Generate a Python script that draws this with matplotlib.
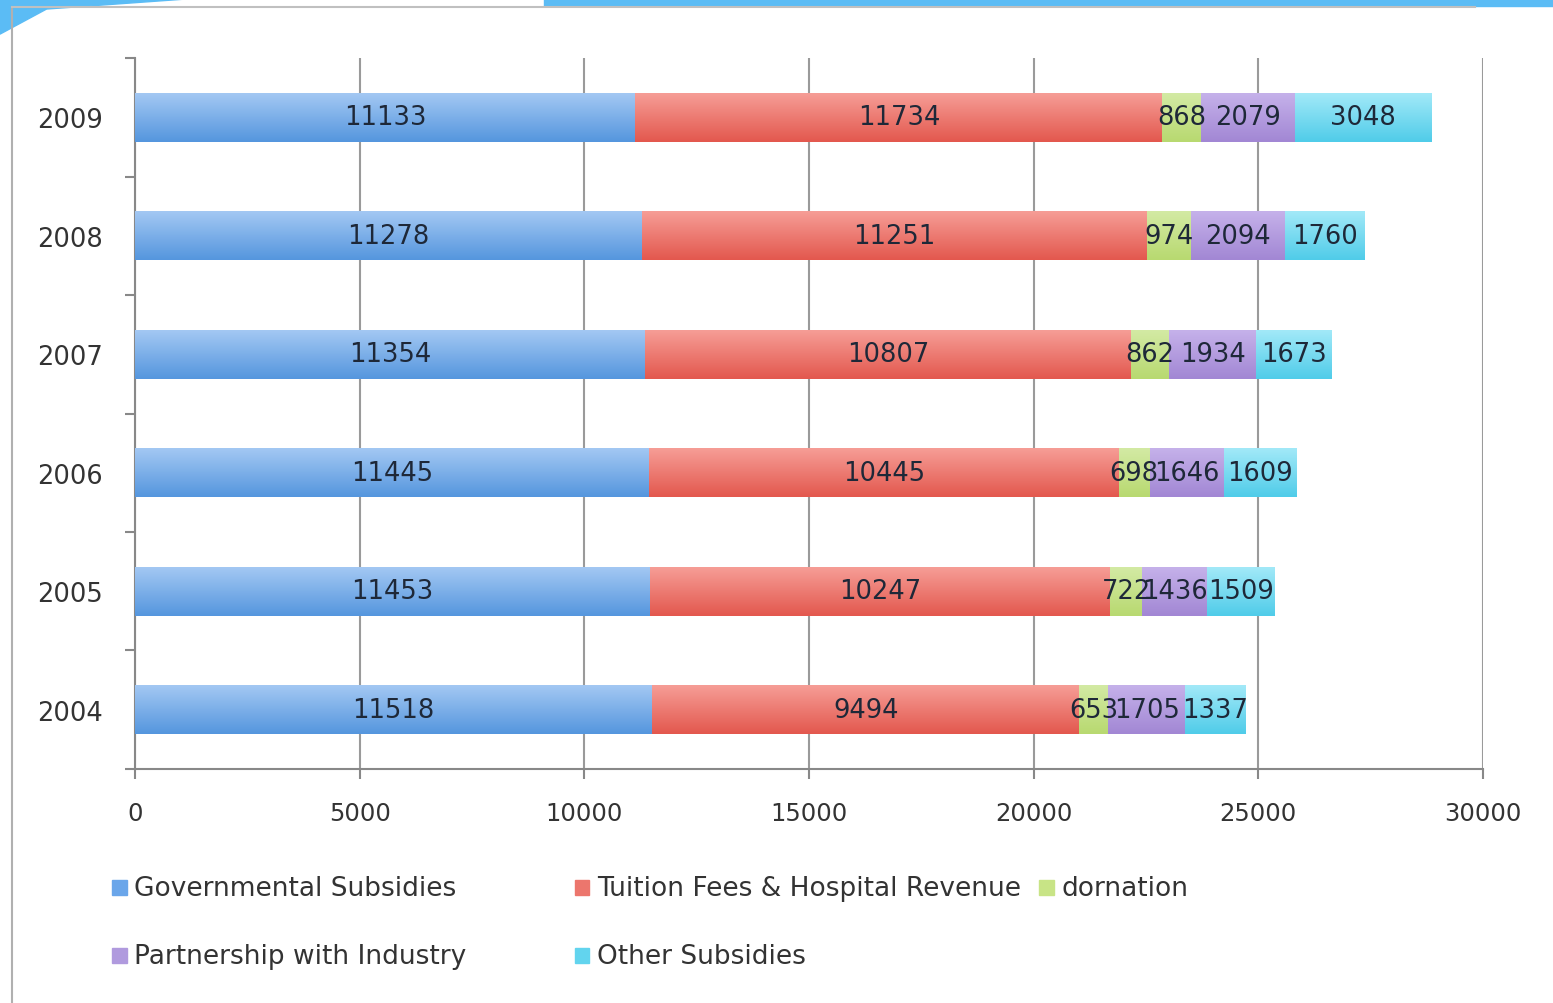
import matplotlib.pyplot as plt
import numpy as np
from matplotlib.patches import Polygon, Rectangle
from matplotlib.lines import Line2D
from matplotlib.colors import LinearSegmentedColormap

plt.rcParams['font.family'] = ['DejaVu Sans']

years = ['2004', '2005', '2006', '2007', '2008', '2009']
gov = [11518, 11453, 11445, 11354, 11278, 11133]
tuition = [9494, 10247, 10445, 10807, 11251, 11734]
donation = [653, 722, 698, 862, 974, 868]
industry = [1705, 1436, 1646, 1934, 2094, 2079]
other = [1337, 1509, 1609, 1673, 1760, 3048]

names = ['Governmental Subsidies', 'Tuition Fees & Hospital Revenue', 'dornation',
         'Partnership with Industry', 'Other Subsidies']
colors = ['#6aa6ea', '#ec766d', '#c8e486', '#b09ade', '#62d4ee']
# (top, bottom) shade for each series
shades = [('#a3c8f3', '#5596de'), ('#f69d96', '#e3584e'), ('#d3eaa4', '#b8d970'),
          ('#c5b1ea', '#a287d4'), ('#a2e9f8', '#50cce9')]
series = [gov, tuition, donation, industry, other]

fig = plt.figure(figsize=(15.53, 10.04), dpi=100)

# slide frame
fig.patches.append(Rectangle((0.35, 0.993), 0.65, 0.007, transform=fig.transFigure,
                             color='#5bbcf5', zorder=0))
fig.patches.append(Polygon([[0, 0.965], [0.03, 0.99], [0.12, 1.0], [0, 1.0]],
                           closed=True, transform=fig.transFigure, color='#5bbcf5', zorder=0))
fig.lines.append(Line2D([0.008, 0.008], [0, 0.992], transform=fig.transFigure,
                        color='#b0b0b0', lw=1.5))
fig.lines.append(Line2D([0.008, 0.95], [0.992, 0.992], transform=fig.transFigure,
                        color='#c0c0c0', lw=1.5))

ax = fig.add_axes([0.0869, 0.2331, 0.868, 0.7081])
y = np.arange(len(years))
left = np.zeros(len(years))
grad = np.linspace(1, 0, 64).reshape(-1, 1)
for vals, c, n, sh in zip(series, colors, names, shades):
    vals = np.array(vals)
    bars = ax.barh(y, vals, left=left, height=0.41, color=c, label=n, zorder=3)
    cmap = LinearSegmentedColormap.from_list(n, [sh[1], sh[0]])
    for b in bars:
        x0, y0 = b.get_x(), b.get_y()
        im = ax.imshow(grad, cmap=cmap, aspect='auto', zorder=3.5,
                       extent=[x0, x0 + b.get_width(), y0, y0 + b.get_height()],
                       origin='upper')
        im.set_clip_path(b)
    for yi, l, v in zip(y, left, vals):
        ax.text(l + v / 2, yi, str(v), ha='center', va='center', fontsize=18.5,
                color='#1e2838', zorder=4)
    left = left + vals

ax.set_xlim(0, 30000)
ax.set_ylim(-0.5, 5.5)
ax.set_xticks(np.arange(0, 30001, 5000))
ax.xaxis.grid(True, color='#9a9a9a', lw=1.5, zorder=0)
ax.set_yticks(y)
ax.set_yticklabels(years)
ax.set_yticks(np.arange(-0.5, 5.6, 1), minor=True)
ax.tick_params(axis='y', which='major', length=0, labelsize=18.5, pad=23, colors='#333333')
ax.tick_params(axis='y', which='minor', length=7, color='#888888', width=1.5)
ax.tick_params(axis='x', length=7, color='#888888', width=1.5, labelsize=17.5, pad=16,
               labelcolor='#333333')
for s in ['top', 'right']:
    ax.spines[s].set_visible(False)
for s in ['left', 'bottom']:
    ax.spines[s].set_color('#888888')
    ax.spines[s].set_linewidth(1.5)

# legend laid out as a grid of swatches and labels
leg_x = [0.072, 0.370, 0.669, 0.072, 0.370]
leg_y = [0.115, 0.115, 0.115, 0.047, 0.047]
for n, c, lx, ly in zip(names, colors, leg_x, leg_y):
    fig.patches.append(Rectangle((lx, ly - 0.007), 0.0095, 0.0145, transform=fig.transFigure,
                                 color=c))
    fig.text(lx + 0.0145, ly, n, fontsize=19, color='#333333', va='center', ha='left')

fig.savefig('out.png', dpi=100, facecolor='white')
